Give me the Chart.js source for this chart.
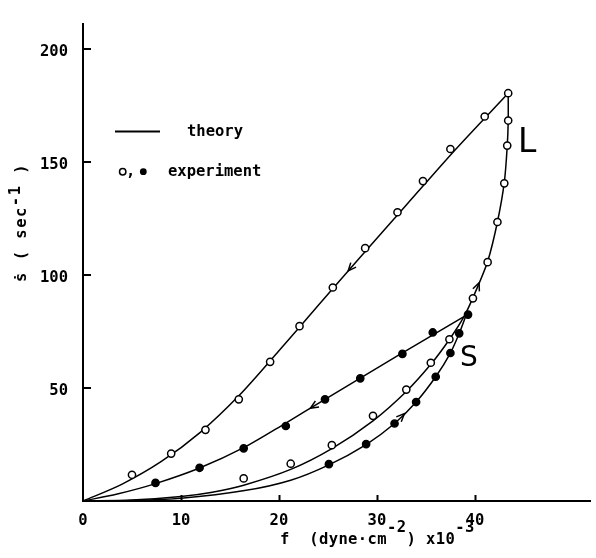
<!DOCTYPE html>
<html><head><meta charset="utf-8">
<script src="https://cdn.jsdelivr.net/npm/chart.js@4.4.1/dist/chart.umd.min.js"></script>
<style>html,body{margin:0;padding:0;background:#fff;} canvas{display:block;}</style>
</head><body>
<canvas id="c" width="596" height="558"></canvas>
<script>
// tick labels
const xTickValues = [0, 10, 20, 30, 40];
const yTickValues = [50, 100, 150, 200];

// experiment: large loop L (open circles)
const lUpF = [16.4, 21.2, 25.4, 29.6, 33.0, 35.5, 37.4, 39.8, 41.3, 42.3, 43.0, 43.3, 43.4, 43.4];
const lUpS = [10.0, 16.5, 24.7, 37.7, 49.3, 61.2, 71.6, 89.7, 105.7, 123.5, 140.6, 157.3, 168.4, 180.5];
const lDownF = [41.0, 37.5, 34.7, 32.1, 28.8, 25.5, 22.1, 19.1, 15.9, 12.5, 9.0, 5.0];
const lDownS = [170.2, 155.8, 141.6, 127.8, 111.9, 94.5, 77.4, 61.6, 45.0, 31.5, 21.0, 11.6];
// experiment: small loop S (filled circles)
const sUpF = [25.1, 28.9, 31.8, 34.0, 36.0, 37.5, 38.4, 39.3];
const sUpS = [16.3, 25.2, 34.3, 43.8, 55.0, 65.5, 74.2, 82.5];
const sDownF = [35.7, 32.6, 28.3, 24.7, 20.7, 16.4, 11.9, 7.4];
const sDownS = [74.6, 65.1, 54.3, 45.0, 33.2, 23.3, 14.7, 8.0];

// theory curves
const thLUpF = [0, 5, 10, 13.2, 16.4, 21.2, 25.4, 29.6, 33.0, 35.5, 37.4, 38.9, 40.0, 41.3, 42.3, 43.0, 43.3, 43.4, 43.4];
const thLUpS = [0, 0.4, 2.0, 3.9, 7.0, 14.0, 23.2, 35.5, 48.5, 60.5, 71.5, 81.7, 92.0, 106.0, 123.5, 141.0, 157.0, 168.0, 180.5];
const thLDownF = [43.4, 38.0, 33.0, 28.0, 24.0, 20.0, 16.0, 12.0, 8.0, 4.0, 0];
const thLDownS = [180.5, 155.5, 131.0, 106.5, 86.5, 66.5, 47.0, 30.5, 17.5, 7.5, 0];
const thSUpF = [0, 5, 10, 16.5, 21.2, 25.1, 28.9, 31.8, 34.0, 36.0, 37.5, 38.4, 39.1];
const thSUpS = [0, 0.2, 1.2, 4.6, 9.2, 16.0, 25.0, 34.3, 43.8, 55.0, 65.5, 74.2, 82.2];
const thSDownF = [39.1, 32.0, 24.7, 20.7, 16.4, 11.9, 7.4, 3.5, 0];
const thSDownS = [82.2, 64.0, 45.0, 34.5, 23.6, 14.6, 7.7, 3.1, 0];

// arrowheads (L down, S down, L up, S up)
const arrowF = [27.1, 23.4, 40.4, 32.8];
const arrowS = [101.7, 39.7, 96.7, 38.7];

const pts = (xs, ys) => xs.map((x, i) => ({x: x, y: ys[i]}));
const curves = [[thLDownF, thLDownS], [thSDownF, thSDownS], [thLUpF, thLUpS], [thSUpF, thSUpS]];

const FONT = 'bold 15.5px "DejaVu Sans Mono"';

function lineDs(xs, ys) {
  return {type: 'line', data: pts(xs, ys), showLine: true, borderColor: '#000', borderWidth: 1.5,
    pointRadius: 0, tension: 0.3, fill: false, order: 2};
}
function markDs(xs, ys, filled) {
  return {type: 'scatter', data: pts(xs, ys), showLine: false, pointStyle: 'circle', pointRadius: 3.6,
    pointBorderWidth: 1.5, pointBorderColor: '#000', pointBackgroundColor: filled ? '#000' : '#fff', order: 0};
}

const deco = {
  id: 'deco',
  afterDatasetsDraw(chart) {
    const {ctx, scales: {x, y}} = chart;
    ctx.save();
    ctx.strokeStyle = '#000';
    ctx.lineWidth = 1.5;
    arrowF.forEach((f, i) => {
      const P = {x: x.getPixelForValue(f), y: y.getPixelForValue(arrowS[i])};
      const [cf, cs] = curves[i];
      let best = null;
      for (let k = 0; k < cf.length - 1; k++) {
        const A = {x: x.getPixelForValue(cf[k]), y: y.getPixelForValue(cs[k])};
        const B = {x: x.getPixelForValue(cf[k + 1]), y: y.getPixelForValue(cs[k + 1])};
        const dx = B.x - A.x, dy = B.y - A.y, L2 = dx * dx + dy * dy;
        let t = L2 ? ((P.x - A.x) * dx + (P.y - A.y) * dy) / L2 : 0;
        t = Math.max(0, Math.min(1, t));
        const Q = {x: A.x + t * dx, y: A.y + t * dy};
        const d = Math.hypot(Q.x - P.x, Q.y - P.y);
        if (!best || d < best.d) best = {d, Q, dx, dy};
      }
      const n = Math.hypot(best.dx, best.dy);
      const ux = best.dx / n, uy = best.dy / n;
      const tip = best.Q;
      ctx.beginPath();
      ctx.moveTo(tip.x - ux * 8 - uy * 3.5, tip.y - uy * 8 + ux * 3.5);
      ctx.lineTo(tip.x, tip.y);
      ctx.lineTo(tip.x - ux * 8 + uy * 3.5, tip.y - uy * 8 - ux * 3.5);
      ctx.stroke();
    });
    ctx.restore();
  },
  afterDraw(chart) {
    const {ctx, chartArea: ca, scales: {x, y}} = chart;
    ctx.save();
    ctx.strokeStyle = '#000';
    ctx.fillStyle = '#000';
    ctx.lineWidth = 2;
    // inward tick marks
    xTickValues.filter(v => v > 0).forEach(v => {
      const px = Math.round(x.getPixelForValue(v)) + 0.5;
      ctx.beginPath(); ctx.moveTo(px, ca.bottom); ctx.lineTo(px, ca.bottom - 6); ctx.stroke();
    });
    yTickValues.forEach(v => {
      const py = Math.round(y.getPixelForValue(v));
      ctx.beginPath(); ctx.moveTo(ca.left, py); ctx.lineTo(ca.left + 8, py); ctx.stroke();
    });
    ctx.font = FONT;
    ctx.textBaseline = 'middle';
    ctx.textAlign = 'left';
    // legend
    ctx.beginPath(); ctx.moveTo(115, 131.5); ctx.lineTo(160, 131.5); ctx.stroke();
    ctx.fillText('theory', 187, 132);
    ctx.lineWidth = 1.5;
    ctx.beginPath(); ctx.arc(122.7, 171.7, 3.2, 0, Math.PI * 2); ctx.stroke();
    ctx.fillText(',', 126, 172);
    ctx.beginPath(); ctx.arc(143.3, 171.7, 3.4, 0, Math.PI * 2); ctx.fill();
    ctx.fillText('experiment', 168, 172);
    // x title
    ctx.save();
    ctx.letterSpacing = '0.4px';
    let cx = 280;
    const put = (t, yy) => { ctx.fillText(t, cx, yy); cx += ctx.measureText(t).width; };
    put('f  (dyne\u00b7cm', 540);
    put('-2', 528);
    put(') x10', 540);
    put('-3', 528);
    ctx.restore();
    // y title (rotated)
    ctx.save();
    ctx.translate(22, 0);
    ctx.rotate(-Math.PI / 2);
    let u = -282;
    const putR = (t, v) => { ctx.fillText(t, u, v); u += ctx.measureText(t).width; };
    ctx.letterSpacing = '1.5px';
    putR('\u1e61 ( sec', 0);
    putR('-1', -6);
    putR(' )', 0);
    ctx.restore();
    // curve labels
    ctx.font = '33px "DejaVu Sans"';
    ctx.textBaseline = 'alphabetic';
    ctx.fillText('L', 518, 152);
    ctx.font = '28px "DejaVu Sans"';
    ctx.fillText('S', 460, 366);
    ctx.restore();
  }
};

new Chart(document.getElementById('c'), {
  data: {
    datasets: [
      lineDs(thLUpF, thLUpS), lineDs(thLDownF, thLDownS), lineDs(thSUpF, thSUpS), lineDs(thSDownF, thSDownS),
      markDs(lUpF, lUpS, false), markDs(lDownF, lDownS, false), markDs(sUpF, sUpS, true), markDs(sDownF, sDownS, true)
    ]
  },
  options: {
    responsive: false,
    animation: false,
    events: [],
    layout: {padding: {left: 0, right: 0, top: 15, bottom: 0}},
    plugins: {legend: {display: false}, tooltip: {enabled: false}},
    scales: {
      x: {
        type: 'linear', min: 0, max: 51.8,
        afterBuildTicks: s => { s.ticks = xTickValues.map(v => ({value: v})); },
        afterFit: s => { s.height = 57; },
        grid: {display: false, drawTicks: false},
        border: {display: true, color: '#000', width: 2},
        ticks: {color: '#000', padding: 11, maxRotation: 0, autoSkip: false,
          font: {family: 'DejaVu Sans Mono', size: 15.5, weight: 'bold'}}
      },
      y: {
        type: 'linear', min: 0, max: 211,
        afterBuildTicks: s => { s.ticks = yTickValues.map(v => ({value: v})); },
        afterFit: s => { s.width = 83; },
        grid: {display: false, drawTicks: false},
        border: {display: true, color: '#000', width: 2},
        ticks: {color: '#000', padding: 15, labelOffset: 3, autoSkip: false,
          font: {family: 'DejaVu Sans Mono', size: 15.5, weight: 'bold'}}
      }
    }
  },
  plugins: [deco]
});
</script>
</body></html>
